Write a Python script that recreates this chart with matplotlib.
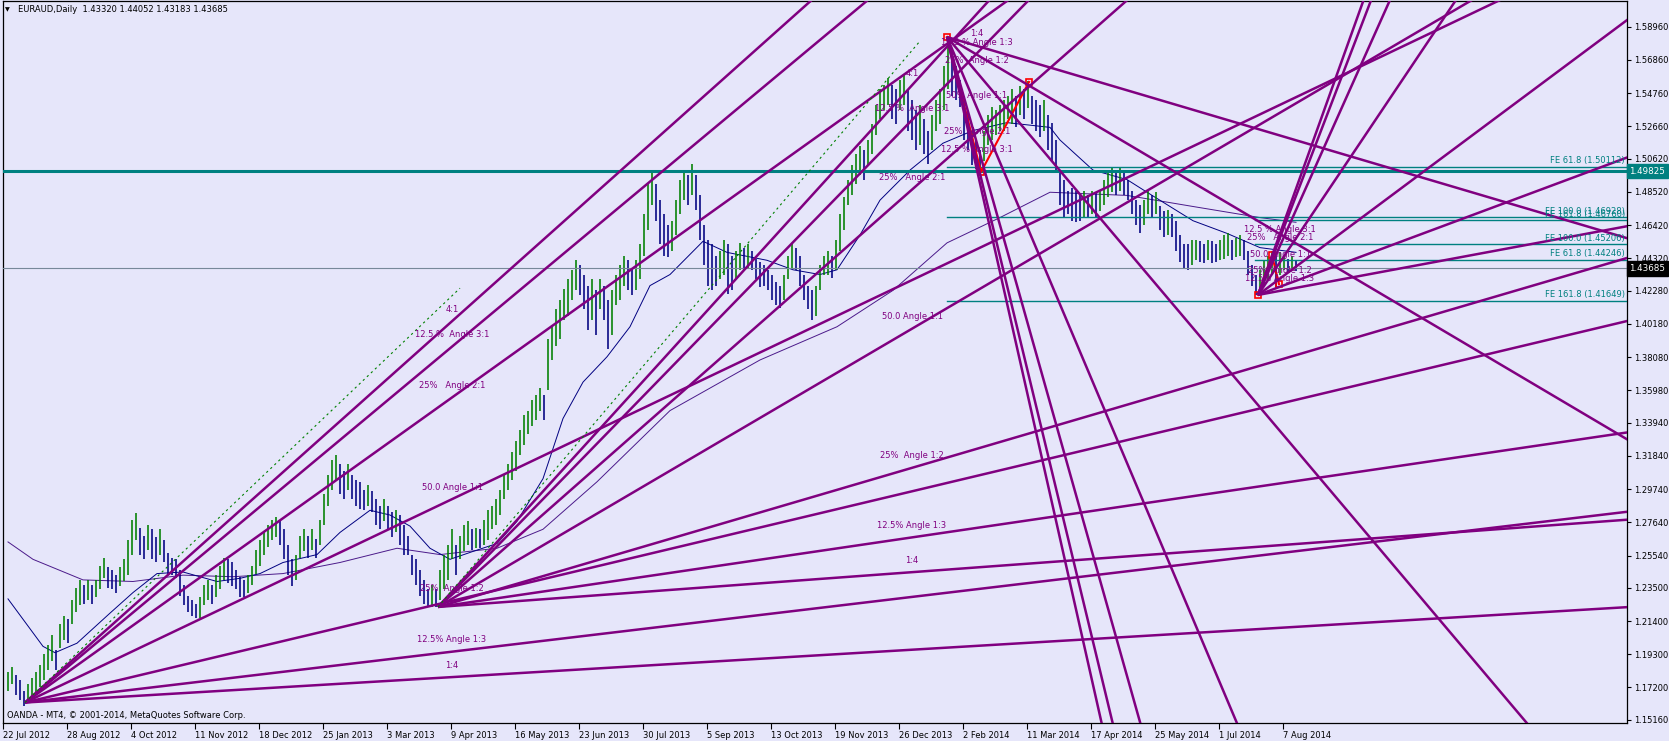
import matplotlib
matplotlib.use("Agg")
import matplotlib.pyplot as plt

plt.rcParams['font.family'] = ['DejaVu Sans']

W, H, DPI = 1669, 741, 100
BG = "#E6E6FA"
PURPLE = "#800080"
TEAL = "#008080"
UP = "#008000"
DOWN = "#000080"
SLOWC = "#4B1A8A"

# ---------------- price bars (one entry per two trading days) ----------------
highs = [1.182, 1.185, 1.180, 1.177, 1.170, 1.174, 1.178, 1.182, 1.186, 1.193,
         1.199, 1.205, 1.196, 1.212, 1.217, 1.215, 1.227, 1.235, 1.240, 1.237,
         1.240, 1.237, 1.240, 1.249, 1.254, 1.248, 1.246, 1.243, 1.248, 1.253,
         1.265, 1.278, 1.282, 1.273, 1.268, 1.275, 1.272, 1.267, 1.272, 1.265,
         1.257, 1.254, 1.253, 1.246, 1.237, 1.230, 1.227, 1.225, 1.229, 1.237,
         1.240, 1.237, 1.243, 1.249, 1.254, 1.253, 1.251, 1.246, 1.242, 1.240,
         1.243, 1.249, 1.259, 1.265, 1.270, 1.275, 1.278, 1.280, 1.277, 1.272,
         1.262, 1.253, 1.256, 1.268, 1.272, 1.268, 1.272, 1.266, 1.278, 1.294,
         1.306, 1.316, 1.319, 1.313, 1.309, 1.313, 1.306, 1.303, 1.302, 1.297,
         1.300, 1.296, 1.291, 1.287, 1.291, 1.287, 1.283, 1.284, 1.281, 1.275,
         1.268, 1.256, 1.253, 1.246, 1.240, 1.234, 1.237, 1.234, 1.246, 1.256,
         1.262, 1.272, 1.262, 1.268, 1.275, 1.277, 1.272, 1.273, 1.272, 1.278,
         1.284, 1.287, 1.291, 1.297, 1.306, 1.313, 1.321, 1.328, 1.335, 1.344,
         1.347, 1.354, 1.357, 1.361, 1.357, 1.392, 1.400, 1.411, 1.417, 1.424,
         1.430, 1.436, 1.442, 1.439, 1.433, 1.426, 1.430, 1.423, 1.430, 1.426,
         1.417, 1.423, 1.433, 1.439, 1.445, 1.442, 1.437, 1.442, 1.452, 1.471,
         1.490, 1.498, 1.490, 1.480, 1.471, 1.464, 1.467, 1.480, 1.493, 1.499,
         1.496, 1.503, 1.496, 1.483, 1.464, 1.455, 1.452, 1.445, 1.448, 1.455,
         1.452, 1.445, 1.448, 1.453, 1.450, 1.452, 1.448, 1.443, 1.441, 1.439,
         1.436, 1.433, 1.428, 1.426, 1.433, 1.445, 1.453, 1.450, 1.445, 1.433,
         1.426, 1.423, 1.426, 1.439, 1.445, 1.448, 1.445, 1.455, 1.471, 1.482,
         1.493, 1.502, 1.509, 1.514, 1.512, 1.518, 1.528, 1.540, 1.550, 1.553,
         1.557, 1.553, 1.550, 1.556, 1.560, 1.550, 1.543, 1.537, 1.540, 1.531,
         1.524, 1.534, 1.543, 1.550, 1.565, 1.583, 1.575, 1.565, 1.556, 1.546,
         1.535, 1.524, 1.518, 1.512, 1.524, 1.534, 1.539, 1.537, 1.540, 1.543,
         1.546, 1.550, 1.546, 1.552, 1.550, 1.555, 1.546, 1.543, 1.540, 1.543,
         1.534, 1.529, 1.518, 1.499, 1.493, 1.486, 1.488, 1.486, 1.483, 1.486,
         1.483, 1.486, 1.485, 1.486, 1.493, 1.498, 1.501, 1.499, 1.501, 1.497,
         1.493, 1.486, 1.480, 1.477, 1.480, 1.486, 1.483, 1.485, 1.476, 1.473,
         1.474, 1.471, 1.467, 1.458, 1.452, 1.452, 1.455, 1.455, 1.454, 1.452,
         1.455, 1.454, 1.452, 1.455, 1.458, 1.459, 1.455, 1.456, 1.458, 1.455,
         1.448, 1.439, 1.433, 1.436, 1.442, 1.445, 1.448, 1.445, 1.447, 1.445,
         1.443, 1.445, 1.442]
lows = [1.170, 1.174, 1.167, 1.164, 1.160, 1.162, 1.164, 1.167, 1.172, 1.177,
        1.183, 1.189, 1.183, 1.197, 1.202, 1.200, 1.212, 1.220, 1.224, 1.225,
        1.227, 1.225, 1.229, 1.234, 1.241, 1.235, 1.234, 1.232, 1.236, 1.239,
        1.243, 1.256, 1.265, 1.256, 1.253, 1.259, 1.253, 1.251, 1.256, 1.251,
        1.244, 1.243, 1.241, 1.230, 1.224, 1.220, 1.217, 1.216, 1.216, 1.224,
        1.227, 1.225, 1.229, 1.234, 1.240, 1.238, 1.236, 1.234, 1.229, 1.229,
        1.232, 1.237, 1.244, 1.249, 1.256, 1.261, 1.265, 1.267, 1.262, 1.253,
        1.243, 1.236, 1.240, 1.254, 1.258, 1.254, 1.259, 1.254, 1.262, 1.275,
        1.287, 1.297, 1.303, 1.294, 1.291, 1.297, 1.291, 1.287, 1.285, 1.284,
        1.287, 1.283, 1.275, 1.272, 1.277, 1.272, 1.267, 1.270, 1.262, 1.256,
        1.256, 1.243, 1.237, 1.230, 1.225, 1.223, 1.223, 1.223, 1.227, 1.234,
        1.240, 1.253, 1.243, 1.253, 1.258, 1.262, 1.259, 1.260, 1.260, 1.262,
        1.265, 1.272, 1.275, 1.281, 1.291, 1.297, 1.303, 1.309, 1.319, 1.325,
        1.332, 1.337, 1.341, 1.347, 1.341, 1.360, 1.379, 1.388, 1.392, 1.404,
        1.407, 1.417, 1.423, 1.420, 1.411, 1.398, 1.404, 1.395, 1.411, 1.404,
        1.386, 1.395, 1.414, 1.417, 1.426, 1.423, 1.420, 1.423, 1.430, 1.445,
        1.461, 1.477, 1.467, 1.452, 1.445, 1.444, 1.448, 1.458, 1.471, 1.480,
        1.477, 1.483, 1.474, 1.455, 1.439, 1.426, 1.423, 1.426, 1.430, 1.433,
        1.421, 1.423, 1.431, 1.436, 1.436, 1.437, 1.436, 1.430, 1.425, 1.426,
        1.423, 1.417, 1.414, 1.412, 1.417, 1.430, 1.437, 1.436, 1.426, 1.417,
        1.411, 1.404, 1.407, 1.423, 1.433, 1.433, 1.431, 1.436, 1.448, 1.461,
        1.477, 1.483, 1.490, 1.496, 1.493, 1.502, 1.509, 1.521, 1.531, 1.537,
        1.540, 1.531, 1.528, 1.537, 1.540, 1.524, 1.518, 1.512, 1.515, 1.509,
        1.503, 1.512, 1.524, 1.528, 1.537, 1.550, 1.546, 1.543, 1.539, 1.518,
        1.512, 1.502, 1.500, 1.498, 1.505, 1.515, 1.518, 1.521, 1.524, 1.524,
        1.531, 1.528, 1.526, 1.534, 1.531, 1.538, 1.528, 1.524, 1.520, 1.524,
        1.512, 1.505, 1.497, 1.477, 1.469, 1.471, 1.467, 1.466, 1.467, 1.469,
        1.469, 1.471, 1.469, 1.473, 1.477, 1.482, 1.485, 1.483, 1.486, 1.483,
        1.480, 1.471, 1.464, 1.459, 1.464, 1.471, 1.469, 1.471, 1.461, 1.457,
        1.458, 1.457, 1.448, 1.441, 1.437, 1.436, 1.439, 1.442, 1.441, 1.440,
        1.442, 1.440, 1.441, 1.442, 1.443, 1.445, 1.442, 1.444, 1.445, 1.442,
        1.433, 1.426, 1.420, 1.421, 1.426, 1.430, 1.433, 1.425, 1.433, 1.436,
        1.434, 1.436, 1.435]

# ---------------- moving averages ----------------
ma_fast_bar = [0, 17.5, 23.5, 34.5, 51, 62.5, 74.5, 87.5, 104.5, 116, 126, 137.5, 154.5,
               166, 181, 191, 201, 211, 221, 232.5, 244.5, 254.5, 267.5, 277.5, 287.5,
               299.5, 311, 321, 331, 347.5, 359.5, 379.5, 392.5, 406, 414.5, 426, 436,
               451, 467.5, 482.5, 499.5, 521, 526, 542.5, 559.5, 569.5, 592.5, 609.5,
               626, 644]
ma_fast_val = [1.228, 1.198, 1.194, 1.200, 1.219, 1.232, 1.244, 1.245, 1.239, 1.241,
               1.244, 1.251, 1.256, 1.270, 1.284, 1.281, 1.274, 1.260, 1.253, 1.258,
               1.263, 1.277, 1.304, 1.342, 1.365, 1.381, 1.400, 1.426, 1.433, 1.454,
               1.447, 1.442, 1.436, 1.433, 1.436, 1.458, 1.480, 1.499, 1.516, 1.524,
               1.529, 1.526, 1.518, 1.499, 1.493, 1.485, 1.467, 1.459, 1.450, 1.447]
ma_slow_bar = [0, 12.5, 37.5, 62.5, 87.5, 112.5, 137.5, 166, 194.5, 216, 244.5, 267.5,
               294.5, 331, 376, 414.5, 442.5, 469.5, 496, 521, 559.5, 592.5, 626, 644]
ma_slow_val = [1.264, 1.253, 1.240, 1.239, 1.243, 1.242, 1.244, 1.251, 1.260, 1.256,
               1.260, 1.272, 1.302, 1.347, 1.379, 1.400, 1.423, 1.453, 1.469, 1.485,
               1.483, 1.476, 1.469, 1.466]

# ---------------- axes labels ----------------
price_ticks = [1.58960, 1.56860, 1.54760, 1.52660, 1.50620, 1.48520, 1.46420, 1.44320,
               1.42280, 1.40180, 1.38080, 1.35980, 1.33940, 1.31840, 1.29740, 1.27640,
               1.25540, 1.23500, 1.21400, 1.19300, 1.17200, 1.15160]
date_labels = ["22 Jul 2012", "28 Aug 2012", "4 Oct 2012", "11 Nov 2012", "18 Dec 2012",
               "25 Jan 2013", "3 Mar 2013", "9 Apr 2013", "16 May 2013", "23 Jun 2013",
               "30 Jul 2013", "5 Sep 2013", "13 Oct 2013", "19 Nov 2013", "26 Dec 2013",
               "2 Feb 2014", "11 Mar 2014", "17 Apr 2014", "25 May 2014", "1 Jul 2014",
               "7 Aug 2014"]

# ---------------- Gann fans ----------------
fan_origin_bar = [8.5, 215.0, 469.5, 625.0]
fan_origin_price = [1.1625, 1.2229, 1.5831, 1.4201]
fan_unit_slope = [0.000602, 0.000742, -0.002991, 0.001883]   # price per bar of the 1:1 line
fan_label_bar = [222.0, 452.0, 484.5, 636.0]
fan_label_offset = [0.0076, 0.0076, 0.0076, 0.0050]
fan_factors = [1.875, 1.75, 1.5, 1.0, 0.5, 0.25, 0.125]
fan_labels = [
    ["4:1", "12.5 %  Angle 3:1", "25%   Angle 2:1", "50.0 Angle 1:1", "25%  Angle 1:2", "12.5% Angle 1:3", "1:4"],
    ["4:1", "12.5 %  Angle 3:1", "25%   Angle 2:1", "50.0 Angle 1:1", "25%  Angle 1:2", "12.5% Angle 1:3", "1:4"],
    ["", "12.5 % Angle 3:1", "25%   Angle 2:1", "50% Angle 1:1", "25%  Angle 1:2", "12.5 % Angle 1:3", "1:4"],
    ["", "12.5 % Angle 3:1", "25%   Angle 2:1", "50.0 Angle 1:1", "25%  Angle 1:2", "12.5% Angle 1:3", ""],
]
fan_dotted = [True, True, False, False]

# ---------------- Fibonacci expansions ----------------
fibo1_bar = [469.5, 486.5, 510.5]
fibo1_price = [1.5831, 1.4978, 1.5547]
fibo2_bar = [625.0, 632.0, 635.5]
fibo2_price = [1.4201, 1.4452, 1.4269]
fe1_levels = [1.50112, 1.46928, 1.41649]
fe1_names = ["FE 61.8 (1.50112)", "FE 100.0 (1.46928)", "FE 161.8 (1.41649)"]
fe2_levels = [1.44246, 1.45206, 1.46760]
fe2_names = ["FE 61.8 (1.44246)", "FE 100.0 (1.45206)", "FE 161.8 (1.46760)"]
hline_level = 1.49825
bid_level = 1.43685
header = "EURAUD,Daily  1.43320 1.44052 1.43183 1.43685"
footer = "OANDA - MT4, \u00a9 2001-2014, MetaQuotes Software Corp."

# ================= drawing =================
fig = plt.figure(figsize=(W / DPI, H / DPI), dpi=DPI, facecolor=BG)
L, R, T, B = 3, 1627, 1, 723
ax = fig.add_axes([L / W, 1 - B / H, (R - L) / W, (B - T) / H])
ax.set_facecolor(BG)

XMIN, XMAX = -2.5, 809.5
YMIN, YMAX = 1.14956, 1.60587

# moving averages
ax.plot(ma_slow_bar, ma_slow_val, color=SLOWC, lw=0.7, zorder=2)
ax.plot(ma_fast_bar, ma_fast_val, color=DOWN, lw=0.7, zorder=2)

# bars
xs = [2 * k for k in range(len(highs))]
cols = []
prev = None
for h, l in zip(highs, lows):
    mid = (h + l) / 2
    cols.append(UP if (prev is None or mid >= prev) else DOWN)
    prev = mid
ax.vlines(xs, lows, highs, colors=cols, linewidth=1.15, zorder=3)

# horizontal lines
ax.axhline(hline_level, color=TEAL, lw=2.2, zorder=4)
ax.axhline(bid_level, color="#778899", lw=0.8, zorder=4)
for lv in fe1_levels:
    ax.plot([fibo1_bar[0], XMAX + 5], [lv, lv], color=TEAL, lw=1.0, zorder=4)
for lv in fe2_levels:
    ax.plot([fibo2_bar[0] - 1.5, XMAX + 5], [lv, lv], color=TEAL, lw=1.0, zorder=4)
for lv, nm in list(zip(fe1_levels, fe1_names)) + list(zip(fe2_levels, fe2_names)):
    ax.text(XMAX - 1, lv + 0.0008, nm, ha='right', va='bottom', color=TEAL,
            fontsize=6, zorder=8)

# red fibonacci anchors
for bx, by in ((fibo1_bar, fibo1_price), (fibo2_bar, fibo2_price)):
    ax.plot(bx, by, color="#FF0000", lw=1.5, zorder=5)
    ax.plot(bx, by, ls='none', marker='s', ms=4, mfc='none', mec="#FF0000", mew=1.2, zorder=5)

# Gann fans
FAR = 2000
for i in range(len(fan_origin_bar)):
    x0, y0, m = fan_origin_bar[i], fan_origin_price[i], fan_unit_slope[i]
    lx = fan_label_bar[i]
    for f, name in zip(fan_factors, fan_labels[i]):
        s = f * m
        ax.plot([x0, x0 + FAR], [y0, y0 + s * FAR], color=PURPLE, lw=1.8,
                solid_capstyle='butt', zorder=6)
        if name:
            ax.text(lx, y0 + s * (lx - x0) + fan_label_offset[i], name, ha='center',
                    va='center', color=PURPLE, fontsize=6, zorder=8)
    if fan_dotted[i]:
        ax.plot([x0, lx + 4], [y0, y0 + 2 * m * (lx + 4 - x0)], color=UP, lw=0.8,
                ls=(0, (2, 3)), zorder=6)

ax.set_xlim(XMIN, XMAX)
ax.set_ylim(YMIN, YMAX)

# axes styling
for sp in ax.spines.values():
    sp.set_color("black")
    sp.set_linewidth(0.9)
ax.yaxis.tick_right()
ax.set_yticks(price_ticks)
ax.set_yticklabels(["%.5f" % v for v in price_ticks])
ax.tick_params(axis='y', length=3, width=0.8, pad=2, labelsize=6, colors='black')
date_pos = [XMIN + 32 * k for k in range(len(date_labels))]
ax.set_xticks(date_pos)
ax.set_xticklabels(date_labels)
for lbl in ax.get_xticklabels():
    lbl.set_ha('left')
ax.tick_params(axis='x', length=4, width=0.8, pad=1.5, labelsize=6, colors='black')

# price boxes on the axis
tr = ax.get_yaxis_transform()
ax.text(1.0015, hline_level, "1.49825", transform=tr, ha='left', va='center',
        color='white', fontsize=6.3, clip_on=False, zorder=9,
        bbox=dict(boxstyle='square,pad=0.3', fc=TEAL, ec=TEAL))
ax.text(1.0015, bid_level, "1.43685", transform=tr, ha='left', va='center',
        color='white', fontsize=6.3, clip_on=False, zorder=9,
        bbox=dict(boxstyle='square,pad=0.3', fc='black', ec='black'))

# header / footer
fig.text(5 / W, 1 - 10 / H, "\u25bc", fontsize=4.5, va='center', ha='left', color='black')
fig.text(18 / W, 1 - 10 / H, header, fontsize=6, va='center', ha='left', color='black')
fig.text(7 / W, 1 - 715 / H, footer, fontsize=6, va='center', ha='left', color='black')

fig.savefig("out.png", dpi=DPI, facecolor=BG)
